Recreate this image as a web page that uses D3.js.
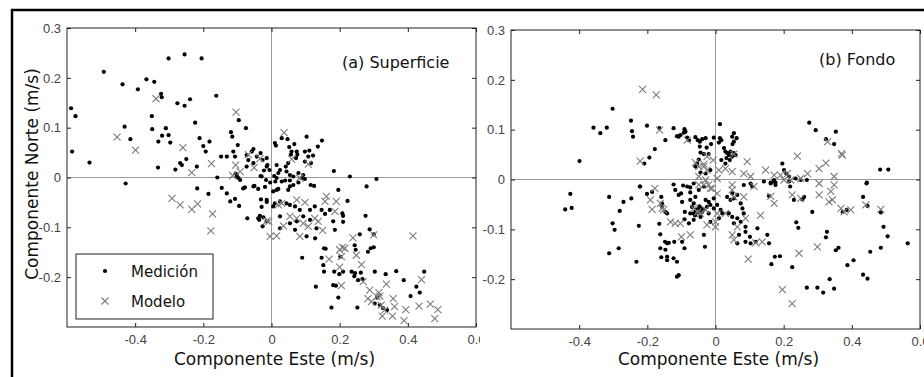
<!DOCTYPE html>
<html>
<head>
<meta charset="utf-8">
<script src="https://cdn.jsdelivr.net/npm/d3@7"></script>
<style>
  body { margin: 0; background: #fff; }
  svg { display: block; }
</style>
</head>
<body>
<svg id="chart" width="924" height="377"></svg>
<script>
// [este, norte] en m/s
const superficieMedicion = [
  [-0.588,0.139],[-0.575,0.123],[-0.585,0.052],[-0.492,0.212],[-0.534,0.030],[-0.437,0.187],[-0.431,0.102],[-0.392,0.177],
  [-0.414,0.077],[-0.428,-0.012],[-0.367,0.197],[-0.344,0.192],[-0.351,0.123],[-0.350,0.097],[-0.332,0.072],[-0.324,0.168],
  [-0.322,0.161],[-0.321,0.084],[-0.310,0.099],[-0.302,0.085],[-0.297,0.070],[-0.333,0.020],[-0.302,0.239],[-0.255,0.247],
  [-0.205,0.239],[-0.276,0.149],[-0.255,0.144],[-0.239,0.157],[-0.162,0.164],[-0.224,0.110],[-0.211,0.079],[-0.182,0.072],
  [-0.200,0.063],[-0.193,0.052],[-0.268,0.029],[-0.263,0.025],[-0.282,0.016],[-0.250,0.037],[-0.219,0.022],[-0.218,-0.022],
  [-0.148,0.042],[-0.131,0.042],[-0.159,0.000],[-0.119,0.091],[-0.115,0.082],[-0.096,0.115],[-0.075,0.099],[-0.099,0.065],
  [-0.112,0.052],[-0.107,0.042],[-0.105,0.008],[-0.102,0.002],[-0.073,0.045],[-0.068,0.035],[-0.058,0.052],[-0.053,0.057],
  [-0.043,0.042],[-0.073,0.022],[-0.032,0.049],[-0.026,0.035],[-0.053,0.029],[-0.029,0.002],[-0.014,0.022],[-0.083,-0.022],
  [-0.053,-0.018],[-0.185,-0.033],[-0.131,-0.032],[-0.107,-0.043],[-0.095,-0.057],[-0.071,-0.082],[-0.036,-0.085],[-0.024,-0.080],
  [-0.029,-0.059],[-0.014,-0.049],[-0.078,-0.020],[-0.050,-0.017],
  [0.030,0.079],[0.010,0.069],[0.013,0.064],[0.047,0.077],[0.067,0.067],[0.103,0.082],[0.148,0.074],[0.136,0.062],
  [0.052,0.061],[0.057,0.046],[0.059,0.052],[0.074,0.052],[0.076,0.046],[0.072,0.039],[0.098,0.052],[0.111,0.054],
  [0.122,0.044],[0.108,0.042],[0.098,0.032],[0.116,0.029],[0.049,0.029],[0.015,0.025],[0.025,0.015],[0.020,0.009],
  [0.042,0.022],[0.044,0.012],[0.054,0.005],[0.064,0.002],[0.079,0.009],[0.093,0.005],[0.008,0.003],[0.015,-0.001],
  [0.011,-0.008],[0.030,-0.008],[0.040,-0.006],[0.054,-0.006],[0.064,-0.015],[0.079,-0.010],[0.088,-0.001],[0.098,-0.003],
  [0.115,-0.015],[0.125,-0.017],[0.054,-0.018],[0.049,-0.025],[0.015,-0.025],[0.020,-0.023],[0.005,-0.028],[0.183,0.013],
  [0.196,-0.025],[0.025,-0.048],[0.010,-0.052],[0.044,-0.052],[0.054,-0.055],[0.069,-0.058],[0.005,-0.058],[0.083,-0.065],
  [0.127,-0.058],[0.113,-0.065],[0.093,-0.078],[0.147,-0.065],[0.157,-0.073],[0.171,-0.065],[0.181,-0.088],[0.186,-0.105],
  [0.132,-0.102],[0.113,-0.085],[0.074,-0.088],[0.054,-0.092],[0.025,-0.078],[0.025,-0.102],[0.069,-0.105],[0.103,-0.118],
  [0.128,-0.122],[0.230,0.002],[0.279,-0.018],[0.308,-0.003],
  [-0.014,0.039],[-0.012,0.025],[-0.102,0.005],[-0.097,-0.001],[-0.092,-0.005],[-0.032,0.003],[-0.022,0.014],[-0.006,0.015],
  [-0.016,-0.005],[-0.004,-0.010],[-0.146,-0.021],[-0.039,-0.023],[-0.019,-0.019],[-0.031,-0.044],[-0.014,-0.045],[-0.121,-0.048],
  [-0.039,-0.082],[-0.034,-0.077],[-0.026,-0.098],[-0.014,-0.088],
  [0.223,-0.047],[0.208,-0.072],[0.210,-0.077],[0.210,-0.089],[0.276,-0.077],[0.288,-0.104],[0.300,-0.114],[0.259,-0.114],
  [0.244,-0.136],[0.247,-0.145],[0.291,-0.142],[0.283,-0.149],[0.300,-0.140],[0.159,-0.143],[0.154,-0.142],[0.090,-0.161],
  [0.147,-0.161],[0.202,-0.159],[0.152,-0.176],[0.154,-0.189],[0.184,-0.189],[0.199,-0.194],[0.210,-0.189],[0.235,-0.189],
  [0.245,-0.192],[0.243,-0.198],[0.262,-0.191],[0.267,-0.204],[0.303,-0.189],[0.335,-0.194],[0.366,-0.188],[0.448,-0.189],
  [0.388,-0.206],[0.425,-0.219],[0.435,-0.231],[0.254,-0.206],[0.181,-0.216],[0.189,-0.217],[0.130,-0.219],[0.196,-0.241],
  [0.176,-0.261],[0.252,-0.261],[0.408,-0.238],[0.310,-0.241],[0.303,-0.253],[0.327,-0.262],[0.318,-0.256],[0.339,-0.266]
];

const superficieModelo = [
  [-0.339,0.158],[-0.453,0.081],[-0.399,0.055],[-0.260,0.060],[-0.234,0.010],[-0.176,0.028],[-0.104,0.131],[-0.105,0.025],
  [-0.114,0.004],[-0.051,0.020],[-0.034,0.038],[-0.292,-0.042],[-0.268,-0.055],[-0.234,-0.064],[-0.217,-0.053],[-0.173,-0.073],
  [-0.178,-0.107],[-0.014,-0.087],[-0.008,-0.088],[0.015,-0.117],[0.037,0.090],[-0.092,0.012],[-0.068,0.046],[0.059,0.037],
  [0.108,0.027],[0.083,-0.001],[0.020,-0.055],[0.030,-0.052],[0.074,-0.045],[0.098,-0.050],[0.054,-0.078],[0.074,-0.082],
  [0.093,-0.092],[0.108,-0.098],[0.035,-0.097],[0.161,-0.038],[0.157,-0.048],[0.190,-0.048],[0.186,-0.068],[0.127,-0.082],
  [0.137,-0.088],[0.150,-0.106],[-0.004,-0.118],[0.083,-0.118],
  [0.415,-0.117],[0.300,-0.115],[0.239,-0.121],[0.249,-0.156],[0.264,-0.175],[0.200,-0.145],[0.208,-0.140],[0.215,-0.142],
  [0.205,-0.159],[0.200,-0.180],[0.169,-0.164],[0.205,-0.217],[0.269,-0.209],[0.288,-0.226],[0.283,-0.243],[0.293,-0.249],
  [0.315,-0.231],[0.310,-0.239],[0.318,-0.238],[0.337,-0.214],[0.322,-0.256],[0.332,-0.266],[0.325,-0.278],[0.357,-0.243],
  [0.361,-0.259],[0.355,-0.278],[0.394,-0.265],[0.389,-0.287],[0.433,-0.258],[0.466,-0.254],[0.488,-0.265],[0.440,-0.205],
  [0.479,-0.283]
];

const fondoMedicion = [
  [-0.399,0.037],[-0.358,0.104],[-0.338,0.093],[-0.319,0.104],[-0.302,0.142],[-0.248,0.118],[-0.245,0.097],[-0.242,0.086],
  [-0.201,0.108],[-0.178,0.061],[-0.194,0.044],[-0.209,0.032],[-0.165,0.103],[-0.147,0.079],[-0.123,0.103],[-0.113,0.087],
  [-0.108,0.086],[-0.103,0.089],[-0.091,0.101],[-0.088,0.096],[-0.093,0.094],[-0.083,0.084],[-0.078,0.079],[-0.059,0.085],
  [-0.052,0.079],[-0.046,0.076],[-0.039,0.081],[-0.029,0.083],[-0.046,0.066],[-0.026,0.064],[-0.013,0.071],[-0.005,0.084],
  [-0.044,0.054],[-0.034,0.051],[-0.020,0.051],[-0.049,0.040],[-0.054,0.032],[-0.059,0.026],[-0.044,0.014],[-0.029,0.012],
  [-0.015,0.019],[0.013,0.111],[0.013,0.083],[-0.221,-0.014],[-0.123,-0.010],[-0.095,-0.012],[-0.083,-0.014],[-0.074,-0.016],
  [0.017,0.079],[0.010,0.074],[0.054,0.093],[0.049,0.086],[0.062,0.083],[0.054,0.076],[0.050,0.071],[0.025,0.063],
  [0.029,0.056],[0.034,0.053],[0.039,0.049],[0.044,0.056],[0.049,0.046],[0.054,0.053],[0.059,0.049],[0.032,0.043],
  [0.042,0.039],[0.029,0.032],[0.017,0.039],[0.196,0.032],[0.201,0.019],[0.208,0.012],[0.216,0.006],[0.172,-0.001],
  [0.162,-0.006],[0.176,-0.006],[0.142,-0.004],[0.235,0.002],[0.250,-0.001],[0.268,-0.001],[0.275,0.114],[0.294,0.099],
  [0.353,0.096],[0.324,0.081],[0.348,0.071],[0.483,0.020],[0.507,0.020],[0.444,-0.006],
  [-0.441,-0.060],[-0.426,-0.029],[-0.422,-0.057],[-0.312,-0.035],[-0.302,-0.088],[-0.296,-0.101],[-0.312,-0.148],[-0.284,-0.138],
  [-0.281,-0.063],[-0.270,-0.045],[-0.247,-0.038],[-0.232,-0.165],[-0.225,-0.093],[-0.222,-0.014],[-0.201,-0.029],[-0.186,-0.025],
  [-0.165,-0.089],[-0.162,-0.110],[-0.159,-0.035],[-0.157,-0.048],[-0.157,-0.055],[-0.147,-0.065],[-0.142,-0.068],[-0.162,-0.138],
  [-0.147,-0.141],[-0.142,-0.155],[-0.148,-0.125],[-0.142,-0.128],[-0.137,-0.127],[-0.159,-0.156],[-0.142,-0.162],[-0.123,-0.158],
  [-0.121,-0.125],[-0.113,-0.165],[-0.108,-0.192],[-0.113,-0.195],[-0.118,-0.021],[-0.108,-0.031],[-0.101,-0.028],[-0.098,-0.045],
  [-0.090,-0.065],[-0.091,-0.080],[-0.098,-0.125],[-0.091,-0.138],
  [-0.074,-0.026],[-0.074,-0.041],[-0.069,-0.055],[-0.064,-0.048],[-0.054,-0.060],[-0.044,-0.058],[-0.064,-0.068],[-0.074,-0.068],
  [-0.078,-0.088],[-0.064,-0.081],[-0.039,-0.065],[-0.025,-0.055],[-0.020,-0.045],[-0.015,-0.051],[-0.029,-0.041],[-0.005,-0.038],
  [-0.005,-0.058],[-0.020,-0.068],[-0.044,-0.075],[-0.059,-0.035],[-0.049,-0.021],[-0.034,-0.014],[-0.064,-0.008],
  [-0.058,-0.062],[-0.050,-0.066],[-0.047,-0.054],[-0.060,-0.072],[-0.036,-0.060],
  [-0.034,-0.111],[-0.031,-0.135],[-0.015,-0.085],[0.005,-0.051],[0.010,-0.078],
  [0.015,-0.061],[0.020,-0.068],[0.034,-0.035],[0.044,-0.041],[0.049,-0.028],[0.054,-0.038],[0.064,-0.031],[0.074,-0.048],
  [0.079,-0.058],[0.083,-0.068],[0.039,-0.068],[0.049,-0.075],[0.064,-0.078],[0.074,-0.085],[0.054,-0.088],[0.069,-0.111],
  [0.088,-0.095],[0.088,-0.105],[0.101,-0.115],[0.118,-0.125],[0.064,-0.128],[0.088,-0.125],[0.123,-0.098],[0.152,-0.111],
  [0.157,-0.128],[0.103,-0.128],[0.164,-0.170],[0.174,-0.155],[0.189,-0.154],[0.225,-0.176],[0.237,-0.086],[0.243,-0.097],
  [0.268,-0.217],[0.299,-0.217],[0.316,-0.227],[0.348,-0.219],[0.335,-0.200],[0.284,-0.065],[0.324,-0.116],[0.327,-0.105],
  [0.353,-0.142],[0.361,-0.137],[0.387,-0.172],[0.405,-0.162],[0.433,-0.191],[0.446,-0.199],[0.454,-0.145],[0.485,-0.137],
  [0.493,-0.095],[0.505,-0.114],[0.564,-0.128],[0.443,-0.008],[0.433,-0.035],[0.446,-0.053],[0.485,-0.066],[0.373,-0.065],
  [0.385,-0.061],[0.230,-0.041],[0.255,-0.040],[0.260,-0.035],[0.157,-0.033],[0.162,-0.008],[0.170,-0.004],[0.176,-0.011],
  [0.216,-0.004],[0.219,-0.014],[0.083,-0.011],[0.103,-0.008],[0.108,-0.014]
];

const fondoModelo = [
  [-0.214,0.181],[-0.174,0.170],[-0.164,0.099],[-0.221,0.037],[-0.083,0.079],[-0.059,0.034],[-0.049,0.026],[-0.034,0.031],
  [-0.025,0.046],[-0.007,0.039],[-0.049,0.006],[-0.029,-0.001],[-0.020,-0.011],[0.005,0.002],[-0.178,-0.018],
  [-0.034,0.026],[-0.025,0.019],[0.010,0.019],[-0.034,-0.011],[-0.010,-0.018],
  [0.054,0.051],[0.093,0.036],[0.083,0.012],[0.103,0.006],[0.029,0.022],[0.049,0.016],[0.147,0.019],[0.172,0.009],
  [0.191,0.009],[0.211,0.012],[0.221,-0.001],[0.250,0.002],[0.270,0.012],[0.201,-0.001],[0.240,0.047],[0.304,0.022],
  [0.324,0.033],[0.329,0.076],[0.348,0.006],[0.370,0.052],[0.372,0.049],
  [-0.191,-0.041],[-0.162,-0.048],[-0.157,-0.058],[-0.152,-0.061],[-0.186,-0.060],[-0.132,-0.085],[-0.118,-0.088],[-0.103,-0.088],
  [-0.100,-0.115],[-0.074,-0.111],[-0.025,-0.091],[0.000,-0.085],[0.000,-0.095],[-0.064,-0.058],[-0.052,-0.065],[-0.044,-0.068],
  [-0.029,-0.061],[-0.049,-0.011],[-0.015,-0.018],[0.005,-0.028],[0.005,-0.068],
  [0.049,-0.011],[0.049,-0.021],[0.054,-0.035],[0.083,-0.035],[0.029,-0.068],[0.064,-0.095],[0.088,-0.078],[0.132,-0.072],
  [0.049,-0.111],[0.054,-0.121],[0.096,-0.160],[0.118,-0.127],[0.137,-0.125],[0.113,-0.014],[0.162,-0.034],[0.172,-0.048],
  [0.225,-0.031],[0.250,-0.038],[0.245,-0.148],[0.196,-0.221],[0.225,-0.249],[0.299,-0.135],[0.304,-0.031],[0.338,-0.024],
  [0.343,-0.041],[0.333,-0.045],[0.304,-0.008],[0.348,-0.011],[0.368,-0.058],[0.377,-0.065],[0.397,-0.061],[0.441,-0.051],
  [0.485,-0.060]
];

const xTicks = [-0.4, -0.2, 0, 0.2, 0.4, 0.6];
const yTicks = [-0.2, -0.1, 0, 0.1, 0.2, 0.3];
const xDomain = [-0.6, 0.6];
const yDomain = [-0.3, 0.3];
const serieLabels = ['Medición', 'Modelo'];

const svg = d3.select('#chart');
const crossPath = 'M-3.5,-3.5L3.5,3.5M-3.5,3.5L3.5,-3.5';
const crossColor = '#7c7c7c';

const panels = [
  { title: '(a) Superficie', dots: superficieMedicion, crosses: superficieModelo,
    x0: 67, x1: 476, y0: 28, y1: 327, titleX: 342, titleY: 68, legend: true },
  { title: '(b) Fondo', dots: fondoMedicion, crosses: fondoModelo,
    x0: 511, x1: 920, y0: 30, y1: 329, titleX: 819, titleY: 65, legend: false },
];

panels.forEach((p, i) => {
  const g = svg.append('g');

  // panel (b) tapa la etiqueta 0.6 del panel (a)
  if (i === 1) {
    g.append('rect').attr('x', 480).attr('y', 12).attr('width', 444).attr('height', 365).attr('fill', '#fff');
  }

  const x = d3.scaleLinear().domain(xDomain).range([p.x0, p.x1]);
  const y = d3.scaleLinear().domain(yDomain).range([p.y1, p.y0]);

  // zero lines
  g.append('line').attr('x1', x(0)).attr('x2', x(0)).attr('y1', p.y0).attr('y2', p.y1)
    .attr('stroke', '#9a9a9a').attr('stroke-width', 1);
  g.append('line').attr('x1', p.x0).attr('x2', p.x1).attr('y1', y(0)).attr('y2', y(0))
    .attr('stroke', '#9a9a9a').attr('stroke-width', 1);

  const styleAxis = (sel) => {
    sel.select('.domain').remove();
    sel.selectAll('.tick line').attr('stroke', '#222');
    sel.selectAll('.tick text')
      .attr('font-family', '"Liberation Sans", Arial, sans-serif')
      .attr('font-size', '13px')
      .attr('fill', '#444');
  };

  g.append('g').attr('transform', `translate(0,${p.y1})`)
    .call(d3.axisBottom(x).tickValues(xTicks).tickSizeInner(-4).tickSizeOuter(0).tickPadding(8).tickFormat(d => String(d)))
    .call(styleAxis);
  g.append('g').attr('transform', `translate(0,${p.y0})`)
    .call(d3.axisTop(x).tickValues(xTicks).tickSizeInner(-4).tickSizeOuter(0).tickFormat(''))
    .call(styleAxis);
  g.append('g').attr('transform', `translate(${p.x0},0)`)
    .call(d3.axisLeft(y).tickValues(yTicks).tickSizeInner(-4).tickSizeOuter(0).tickPadding(6).tickFormat(d => String(d)))
    .call(styleAxis);
  g.append('g').attr('transform', `translate(${p.x1},0)`)
    .call(d3.axisRight(y).tickValues(yTicks).tickSizeInner(-4).tickSizeOuter(0).tickFormat(''))
    .call(styleAxis);

  g.append('rect').attr('x', p.x0).attr('y', p.y0).attr('width', p.x1 - p.x0).attr('height', p.y1 - p.y0)
    .attr('fill', 'none').attr('stroke', '#222').attr('stroke-width', 1);

  g.append('g').selectAll('circle').data(p.dots).join('circle')
    .attr('cx', d => x(d[0])).attr('cy', d => y(d[1])).attr('r', 2.1).attr('fill', '#000');

  g.append('g').selectAll('path').data(p.crosses).join('path')
    .attr('transform', d => `translate(${x(d[0])},${y(d[1])})`)
    .attr('d', crossPath).attr('stroke', crossColor).attr('stroke-width', 1.1).attr('fill', 'none');

  g.append('text').attr('x', p.titleX).attr('y', p.titleY)
    .attr('font-family', '"DejaVu Sans", Verdana, sans-serif').attr('font-size', '16px').attr('fill', '#111')
    .text(p.title);

  g.append('text').attr('x', (p.x0 + p.x1) / 2 + 3).attr('y', 365).attr('text-anchor', 'middle')
    .attr('font-family', '"DejaVu Sans", Verdana, sans-serif').attr('font-size', '17px').attr('fill', '#111')
    .text('Componente Este (m/s)');

  if (p.legend) {
    const lg = g.append('g');
    lg.append('rect').attr('x', 76).attr('y', 254).attr('width', 137).attr('height', 65)
      .attr('fill', '#fff').attr('stroke', '#222').attr('stroke-width', 1);
    lg.append('circle').attr('cx', 105).attr('cy', 271).attr('r', 2.1).attr('fill', '#000');
    lg.append('path').attr('transform', 'translate(105,301)').attr('d', crossPath)
      .attr('stroke', crossColor).attr('stroke-width', 1.1).attr('fill', 'none');
    lg.selectAll('text.lg').data(serieLabels).join('text')
      .attr('class', 'lg')
      .attr('x', 131).attr('y', (d, k) => 277 + k * 30)
      .attr('font-family', '"DejaVu Sans", Verdana, sans-serif').attr('font-size', '15px').attr('fill', '#111')
      .text(d => d);
  }
});

// y label
svg.append('text').attr('transform', 'translate(38,174) rotate(-90)').attr('text-anchor', 'middle')
  .attr('font-family', '"DejaVu Sans", Verdana, sans-serif').attr('font-size', '17px').attr('fill', '#111')
  .text('Componente Norte (m/s)');

// outer frame
svg.append('path').attr('d', 'M12,378V10H926').attr('fill', 'none').attr('stroke', '#000').attr('stroke-width', 2.5);
</script>
</body>
</html>
